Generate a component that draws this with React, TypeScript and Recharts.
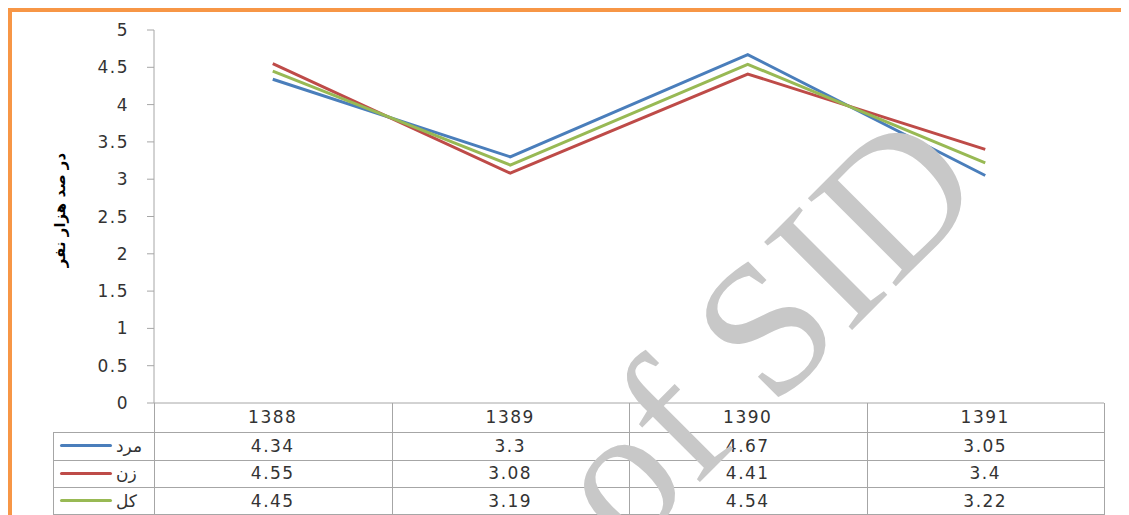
import React from 'react';
import { LineChart, Line, XAxis, YAxis } from 'recharts';

// years on the category axis (also the table header)
const years = ['1388', '1389', '1390', '1391'];

// rates per hundred thousand people
const maleValues = [4.34, 3.3, 4.67, 3.05];
const femaleValues = [4.55, 3.08, 4.41, 3.4];
const totalValues = [4.45, 3.19, 4.54, 3.22];

const seriesNames = ['مرد', 'زن', 'کل'];
const seriesColors = ['#4a7ebb', '#be4b48', '#98b954'];
const seriesKeys = ['male', 'female', 'total'];

const yTicks = [0, 0.5, 1, 1.5, 2, 2.5, 3, 3.5, 4, 4.5, 5];
const yLabel = 'در صد هزار نفر';
const watermark = 'of SID';

const data = years.map((year, i) => ({
  year,
  male: maleValues[i],
  female: femaleValues[i],
  total: totalValues[i],
}));
const seriesValues = [maleValues, femaleValues, totalValues];

// layout (px, relative to the framed box)
const W = 1121;
const H = 507;
const CHART_H = 430;
const PLOT_LEFT = 146;
const PLOT_RIGHT = 1096;
const PLOT_TOP = 22;
const PLOT_BOTTOM = 395;
const ROW_LINES = [395, 424, 451.5, 479, 506];
const LEGEND_LEFT = 45;
const GRID = '#a6a6a6';
const FONT = '"DejaVu Sans", sans-serif';

const App: React.FC = () => {
  const colW = (PLOT_RIGHT - PLOT_LEFT) / years.length;
  const textStyle: React.CSSProperties = {
    position: 'absolute',
    fontFamily: FONT,
    fontSize: 17,
    letterSpacing: 1.5,
    color: '#333',
    textAlign: 'center',
    display: 'flex',
    alignItems: 'center',
    justifyContent: 'center',
  };

  return (
    <div style={{ position: 'relative', width: W, height: H, overflow: 'hidden', background: '#fff' }}>
      {/* orange frame */}
      <div style={{ position: 'absolute', left: 0, top: 0, width: 4, height: H, background: '#f79646' }} />
      <div style={{ position: 'absolute', left: 0, top: 0, width: W, height: 4, background: '#f79646' }} />

      <div style={{ position: 'absolute', left: 0, top: 0 }}>
        <LineChart
          width={W}
          height={CHART_H}
          data={data}
          margin={{ top: PLOT_TOP, right: W - PLOT_RIGHT, bottom: 0, left: 0 }}
        >
          <XAxis
            dataKey="year"
            scale="band"
            tickLine={false}
            tickSize={0}
            tickMargin={8}
            height={CHART_H - PLOT_BOTTOM}
            axisLine={{ stroke: GRID }}
            tick={{ fontSize: 17, fill: '#333', fontFamily: FONT, style: { letterSpacing: 1.5 } }}
          />
          <YAxis
            domain={[0, 5]}
            ticks={yTicks}
            width={PLOT_LEFT}
            tickSize={7}
            tickMargin={18}
            axisLine={{ stroke: GRID }}
            tickLine={{ stroke: GRID }}
            tick={{ fontSize: 17, fill: '#333', fontFamily: FONT, style: { letterSpacing: 1.5 } }}
          />
          {seriesKeys.map((key, i) => (
            <Line
              key={key}
              type="linear"
              dataKey={key}
              name={seriesNames[i]}
              stroke={seriesColors[i]}
              strokeWidth={3}
              dot={false}
              isAnimationActive={false}
            />
          ))}
        </LineChart>
      </div>

      {/* rotated y-axis title */}
      <div
        style={{
          position: 'absolute',
          left: 52 - 80,
          top: 202 - 10,
          width: 160,
          height: 20,
          lineHeight: '20px',
          textAlign: 'center',
          transform: 'rotate(-90deg)',
          fontFamily: FONT,
          fontWeight: 'bold',
          fontSize: 15,
          color: '#000',
          direction: 'rtl',
        }}
      >
        {yLabel}
      </div>

      {/* data table borders */}
      {ROW_LINES.slice(1).map((y) => (
        <div key={'h' + y} style={{ position: 'absolute', left: LEGEND_LEFT, top: Math.round(y), width: PLOT_RIGHT - LEGEND_LEFT + 1, height: 1, background: GRID }} />
      ))}
      {years.map((_, i) => (
        <div key={'v' + i} style={{ position: 'absolute', left: Math.round(PLOT_LEFT + colW * (i + 1)), top: PLOT_BOTTOM, width: 1, height: ROW_LINES[4] - PLOT_BOTTOM, background: GRID }} />
      ))}
      <div style={{ position: 'absolute', left: PLOT_LEFT, top: PLOT_BOTTOM, width: 1, height: ROW_LINES[4] - PLOT_BOTTOM, background: GRID }} />
      <div style={{ position: 'absolute', left: LEGEND_LEFT, top: ROW_LINES[1], width: 1, height: ROW_LINES[4] - ROW_LINES[1], background: GRID }} />

      {/* table rows */}
      {seriesValues.map((vals, r) => {
        const top = ROW_LINES[r + 1];
        const h = ROW_LINES[r + 2] - top;
        return (
          <React.Fragment key={seriesKeys[r]}>
            <div style={{ position: 'absolute', left: 52, top: top + h / 2 - 1.5, width: 52, height: 3, background: seriesColors[r], borderRadius: 1.5 }} />
            <div style={{ ...textStyle, left: 108, top, height: h, justifyContent: 'flex-start', direction: 'rtl', letterSpacing: 1 }}>
              {seriesNames[r]}
            </div>
            {vals.map((v, c) => (
              <div key={c} style={{ ...textStyle, left: PLOT_LEFT + colW * c, top, width: colW, height: h }}>
                {String(v)}
              </div>
            ))}
          </React.Fragment>
        );
      })}

      {/* source watermark */}
      <svg width={W} height={H} style={{ position: 'absolute', left: 0, top: 0, pointerEvents: 'none' }}>
        <text
          x={800}
          y={366}
          transform="rotate(-45 800 366)"
          textAnchor="middle"
          fontFamily='"Liberation Serif", serif'
          fontSize={190}
          fill="#c8c8c8"
        >
          {watermark}
        </text>
      </svg>
    </div>
  );
};

export default App;
